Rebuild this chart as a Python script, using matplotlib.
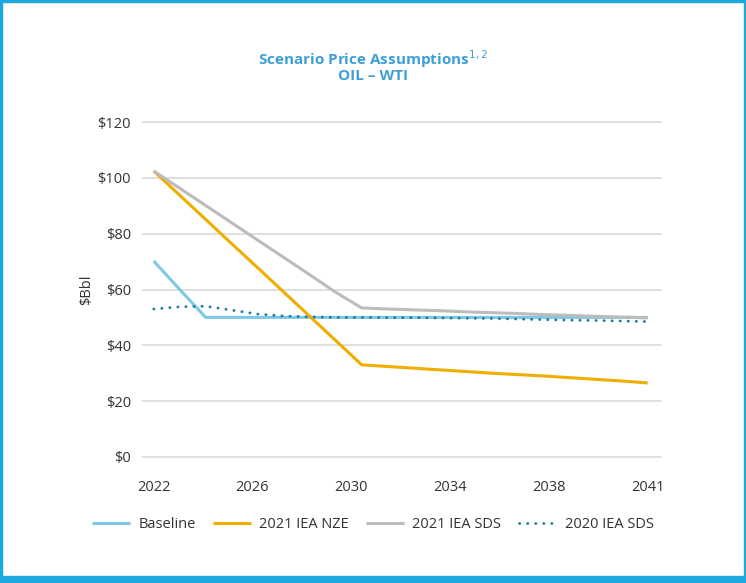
import matplotlib
matplotlib.use("Agg")
import matplotlib.pyplot as plt
from matplotlib.patches import Rectangle

plt.rcParams['font.family'] = ['Open Sans', 'DejaVu Sans']

years = list(range(2022, 2042))
tick_labels = ['2022', '2026', '2030', '2034', '2038', '2041']

baseline = [70.2, 60.0, 50.0, 50.0, 50.0, 50.0, 50.0, 50.0, 50.0, 50.0,
            50.0, 50.0, 50.0, 50.0, 50.0, 50.0, 50.0, 50.0, 50.0, 50.0]
iea_nze_2021 = [102.5, 93.8, 85.1, 76.4, 67.8, 59.1, 50.4, 41.7, 33.0, 32.4,
                31.8, 31.2, 30.6, 30.0, 29.5, 29.0, 28.4, 27.8, 27.2, 26.5]
iea_sds_2021 = [102.5, 96.3, 90.1, 83.9, 77.7, 71.5, 65.3, 59.0, 53.4, 53.0,
                52.7, 52.4, 52.0, 51.7, 51.4, 51.0, 50.7, 50.4, 50.1, 49.8]
iea_sds_2020 = [53.0, 53.8, 54.0, 52.6, 51.2, 50.5, 50.2, 50.0, 50.0, 49.9,
                49.9, 49.8, 49.7, 49.6, 49.4, 49.2, 49.0, 48.9, 48.7, 48.5]

fig = plt.figure(figsize=(7.46, 5.83), dpi=100)
W, H = 746, 583
ax = fig.add_axes([142 / W, 1 - 458 / H, 520 / W, 337 / H])

ax.plot(years, baseline, color='#7ec8e6', lw=2.2, label='Baseline', solid_capstyle='butt')
ax.plot(years, iea_nze_2021, color='#efad00', lw=2.2, label='2021 IEA NZE', solid_capstyle='butt')
ax.plot(years, iea_sds_2021, color='#bcbcbc', lw=2.2, label='2021 IEA SDS', solid_capstyle='butt')
ax.plot(years, iea_sds_2020, color='#1a7ba3', lw=2.0, ls=(0, (0.1, 2.8)),
        dash_capstyle='round', label='2020 IEA SDS')

ax.set_xlim(2021.55, 2041.55)
ax.set_ylim(-0.4, 120.4)
tick_pos = [2022 + i * 19 / 5 for i in range(6)]
ax.set_xticks(tick_pos)
ax.set_xticklabels(tick_labels)
ax.set_yticks(range(0, 121, 20))
ax.set_yticklabels(['$' + str(v) for v in range(0, 121, 20)])
ax.grid(axis='y', color='#d9d9d9', lw=1.2)
ax.set_axisbelow(True)
for s in ax.spines.values():
    s.set_visible(False)
ax.tick_params(axis='both', length=0, labelsize=10.5, colors='#333333')
ax.tick_params(axis='x', pad=16)
ax.tick_params(axis='y', pad=8)
ax.set_ylabel('$Bbl', fontsize=10.5, color='#333333', labelpad=2)

fig.text(0.5, 1 - 59 / H, 'Scenario Price Assumptions$^{1,2}$', ha='center', va='center',
         fontsize=11, fontweight='bold', color='#3d9fd6')
fig.text(0.5, 1 - 76 / H, 'OIL – WTI', ha='center', va='center',
         fontsize=11, fontweight='bold', color='#3d9fd6')

fig.legend(loc='center', bbox_to_anchor=(0.5, 1 - 525 / H), ncol=4, frameon=False,
           fontsize=10.5, handlelength=2.6, columnspacing=1.2, handletextpad=0.55,
           labelcolor='#333333')

# frame
c = '#1ba9de'
fig.patches.append(Rectangle((0, 0), 1, 7 / H, transform=fig.transFigure, color=c))
fig.patches.append(Rectangle((0, 0), 2 / W, 1, transform=fig.transFigure, color=c))
fig.patches.append(Rectangle((1 - 2 / W, 0), 2 / W, 1, transform=fig.transFigure, color=c))
fig.patches.append(Rectangle((0, 1 - 2 / H), 1, 2 / H, transform=fig.transFigure, color=c))

fig.savefig('out.png', dpi=100)
